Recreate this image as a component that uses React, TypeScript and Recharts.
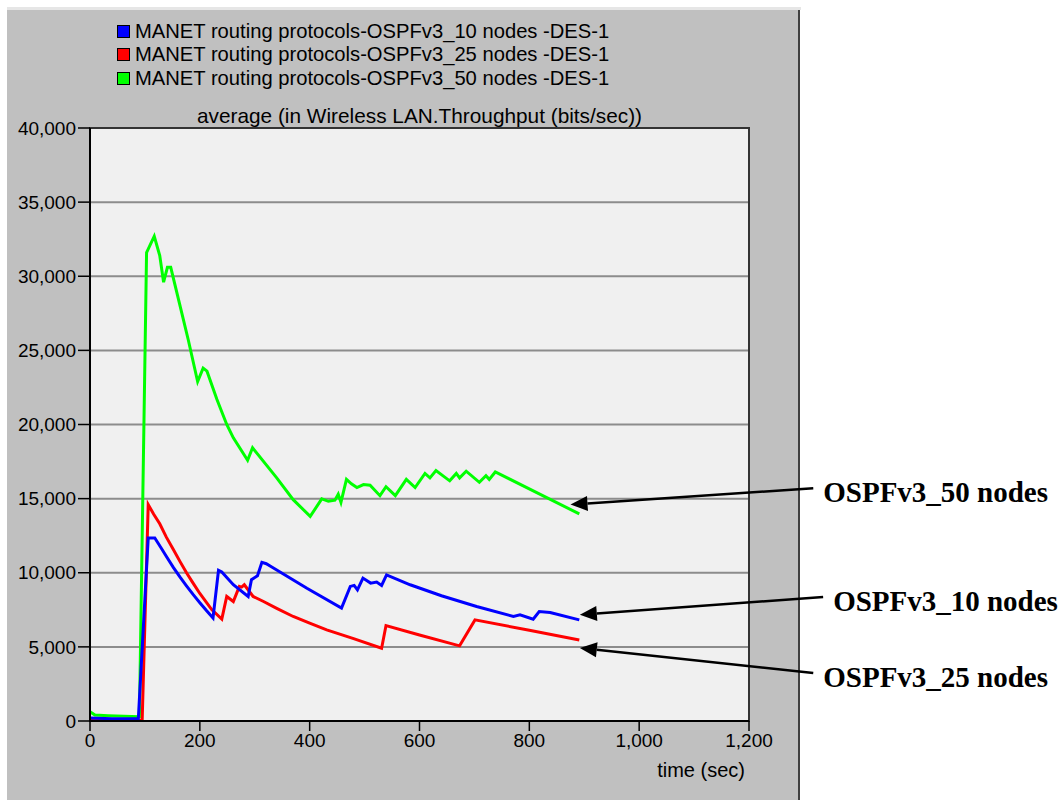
import React from 'react';
import {
  LineChart,
  Line,
  XAxis,
  YAxis,
  CartesianGrid,
  ReferenceArea,
  ReferenceLine,
} from 'recharts';

// time (sec) / throughput (bits/sec)
const nodes10 = [
  { t: 0, v: 200 }, { t: 40, v: 150 }, { t: 88, v: 150 }, { t: 106, v: 12340 },
  { t: 118, v: 12340 }, { t: 129, v: 11700 }, { t: 140, v: 11050 }, { t: 152, v: 10350 },
  { t: 164, v: 9700 }, { t: 176, v: 9100 }, { t: 188, v: 8520 }, { t: 200, v: 7980 },
  { t: 212, v: 7450 }, { t: 224, v: 6950 }, { t: 234, v: 10160 }, { t: 240, v: 10050 },
  { t: 261, v: 9190 }, { t: 288, v: 8400 }, { t: 294, v: 9530 }, { t: 305, v: 9800 },
  { t: 313, v: 10700 }, { t: 321, v: 10610 }, { t: 331, v: 10390 }, { t: 395, v: 8950 },
  { t: 458, v: 7620 }, { t: 474, v: 9080 }, { t: 481, v: 9150 }, { t: 487, v: 8850 },
  { t: 497, v: 9640 }, { t: 511, v: 9300 }, { t: 522, v: 9370 }, { t: 531, v: 9140 },
  { t: 540, v: 9860 }, { t: 583, v: 9190 }, { t: 640, v: 8450 }, { t: 704, v: 7720 },
  { t: 771, v: 7050 }, { t: 783, v: 7160 }, { t: 807, v: 6870 }, { t: 818, v: 7380 },
  { t: 838, v: 7320 }, { t: 891, v: 6820 },
];

const nodes25 = [
  { t: 0, v: 80 }, { t: 40, v: 50 }, { t: 95, v: 50 }, { t: 106, v: 14600 },
  { t: 116, v: 13950 }, { t: 127, v: 13300 }, { t: 139, v: 12400 }, { t: 152, v: 11550 },
  { t: 164, v: 10750 }, { t: 176, v: 9980 }, { t: 188, v: 9280 }, { t: 200, v: 8600 },
  { t: 212, v: 8000 }, { t: 222, v: 7500 }, { t: 240, v: 6870 }, { t: 249, v: 8400 },
  { t: 261, v: 8060 }, { t: 272, v: 9080 }, { t: 276, v: 9030 }, { t: 281, v: 9190 },
  { t: 297, v: 8400 }, { t: 316, v: 8060 }, { t: 340, v: 7600 }, { t: 370, v: 7050 },
  { t: 400, v: 6600 }, { t: 431, v: 6150 }, { t: 480, v: 5560 }, { t: 531, v: 4910 },
  { t: 539, v: 6440 }, { t: 600, v: 5800 }, { t: 673, v: 5070 }, { t: 701, v: 6820 },
  { t: 800, v: 6120 }, { t: 891, v: 5470 },
];

const nodes50 = [
  { t: 0, v: 630 }, { t: 9, v: 400 }, { t: 33, v: 360 }, { t: 90, v: 290 },
  { t: 103, v: 31600 }, { t: 117, v: 32700 }, { t: 127, v: 31400 }, { t: 134, v: 29600 },
  { t: 141, v: 30600 }, { t: 147, v: 30600 }, { t: 164, v: 28000 }, { t: 179, v: 25700 },
  { t: 196, v: 22900 }, { t: 206, v: 23800 }, { t: 213, v: 23600 }, { t: 231, v: 21700 },
  { t: 249, v: 20000 }, { t: 261, v: 19100 }, { t: 287, v: 17590 }, { t: 296, v: 18430 },
  { t: 340, v: 16400 }, { t: 370, v: 14930 }, { t: 401, v: 13800 }, { t: 422, v: 14980 },
  { t: 434, v: 14820 }, { t: 446, v: 14900 }, { t: 452, v: 15300 }, { t: 457, v: 14750 },
  { t: 467, v: 16300 }, { t: 476, v: 16000 }, { t: 486, v: 15750 }, { t: 498, v: 15950 },
  { t: 510, v: 15900 }, { t: 528, v: 15200 }, { t: 539, v: 15800 }, { t: 556, v: 15200 },
  { t: 576, v: 16300 }, { t: 592, v: 15750 }, { t: 610, v: 16700 }, { t: 619, v: 16400 },
  { t: 630, v: 16900 }, { t: 655, v: 16200 }, { t: 667, v: 16700 }, { t: 673, v: 16400 },
  { t: 685, v: 16850 }, { t: 709, v: 16100 }, { t: 721, v: 16550 }, { t: 727, v: 16300 },
  { t: 738, v: 16800 }, { t: 891, v: 13970 },
];

const legendNames = [
  'MANET routing protocols-OSPFv3_10 nodes -DES-1',
  'MANET routing protocols-OSPFv3_25 nodes -DES-1',
  'MANET routing protocols-OSPFv3_50 nodes -DES-1',
];
const legendColors = ['#0000ff', '#ff0000', '#00ff00'];

const xTicks = [0, 200, 400, 600, 800, 1000, 1200];
const yTicks = [0, 5000, 10000, 15000, 20000, 25000, 30000, 35000, 40000];

// callouts: arrow tip near the line end, tail out to the right (data units)
const calloutLabels = ['OSPFv3_50 nodes', 'OSPFv3_10 nodes', 'OSPFv3_25 nodes'];
const calloutTips = [
  { x: 875, y: 14600 },
  { x: 892, y: 7160 },
  { x: 892, y: 4930 },
];
const calloutTails = [
  { x: 1317, y: 15700 },
  { x: 1335, y: 8370 },
  { x: 1317, y: 3240 },
];

const sans = '"Liberation Sans", Arial, sans-serif';
const serif = '"Liberation Serif", "Times New Roman", serif';

const fmt = (v: number) => v.toLocaleString('en-US');

function Arrow(props: any) {
  const { x1, y1, x2, y2, text } = props;
  const ang = Math.atan2(y1 - y2, x1 - x2);
  const c = Math.cos(ang);
  const s = Math.sin(ang);
  const len = 17;
  const hw = 7.5;
  const bx = x1 - c * len;
  const by = y1 - s * len;
  const pts = `${x1},${y1} ${bx - s * hw},${by + c * hw} ${bx + s * hw},${by - c * hw}`;
  return (
    <g>
      <line x1={x2} y1={y2} x2={bx} y2={by} stroke="#000" strokeWidth={2.5} />
      <polygon points={pts} fill="#000" />
      <text
        x={x2 + 10}
        y={y2 + 14}
        fontFamily={serif}
        fontWeight="bold"
        fontSize={29}
        fill="#000"
      >
        {text}
      </text>
    </g>
  );
}

export default function App() {
  return (
    <div style={{ position: 'absolute', left: 0, top: 0, width: 1063, height: 800 }}>
      <div
        style={{
          position: 'absolute',
          left: 7,
          top: 7,
          width: 794,
          height: 3,
          background: '#e6e6e6',
        }}
      />
      <div
        style={{
          position: 'absolute',
          left: 7,
          top: 10,
          width: 791,
          height: 790,
          background: '#c0c0c0',
          borderRight: '2px solid #404040',
        }}
      />
      {legendNames.map((name, i) => (
        <div
          key={name}
          style={{
            position: 'absolute',
            left: 117,
            top: 19 + i * 23.5,
            height: 24,
            display: 'flex',
            alignItems: 'center',
            fontFamily: sans,
            fontSize: 20.2,
            color: '#000',
            whiteSpace: 'nowrap',
          }}
        >
          <span
            style={{
              width: 11,
              height: 11,
              background: legendColors[i],
              border: '1px solid #000',
              marginRight: 5,
              display: 'inline-block',
            }}
          />
          {name}
        </div>
      ))}
      <div
        style={{
          position: 'absolute',
          left: 90,
          width: 659,
          top: 104,
          textAlign: 'center',
          fontFamily: sans,
          fontSize: 20.8,
          color: '#000',
          whiteSpace: 'nowrap',
        }}
      >
        average (in Wireless LAN.Throughput (bits/sec))
      </div>
      <div style={{ position: 'absolute', left: 0, top: 0 }}>
        <LineChart
          width={1063}
          height={800}
          margin={{ top: 128, right: 314, bottom: 19, left: 10 }}
        >
          <CartesianGrid
            vertical={false}
            stroke="#8c8c8c"
            strokeWidth={2}
            fill="#f0f0f0"
          />
          <XAxis
            type="number"
            dataKey="t"
            domain={[0, 1200]}
            ticks={xTicks}
            tickFormatter={fmt}
            height={60}
            tickSize={10}
            tickMargin={3}
            axisLine={{ stroke: '#000', strokeWidth: 2 }}
            tickLine={{ stroke: '#000', strokeWidth: 1.5 }}
            tick={{ fill: '#000', fontSize: 19, fontFamily: sans }}
            label={{
              value: 'time (sec)',
              position: 'insideBottomRight',
              offset: 4,
              fill: '#000',
              fontSize: 20,
              fontFamily: sans,
            }}
          />
          <YAxis
            type="number"
            dataKey="v"
            domain={[0, 40000]}
            ticks={yTicks}
            tickFormatter={fmt}
            width={80}
            tickSize={12}
            tickMargin={2}
            axisLine={{ stroke: '#000', strokeWidth: 2 }}
            tickLine={{ stroke: '#000', strokeWidth: 1.5 }}
            tick={{ fill: '#000', fontSize: 19, fontFamily: sans }}
          />
          <ReferenceArea
            x1={0}
            x2={1200}
            y1={0}
            y2={40000}
            fill="none"
            stroke="#333"
            strokeWidth={2}
          />
          <Line
            data={nodes50}
            dataKey="v"
            name={legendNames[2]}
            type="linear"
            stroke="#00ff00"
            strokeWidth={3}
            dot={false}
            isAnimationActive={false}
          />
          <Line
            data={nodes25}
            dataKey="v"
            name={legendNames[1]}
            type="linear"
            stroke="#ff0000"
            strokeWidth={3}
            dot={false}
            isAnimationActive={false}
          />
          <Line
            data={nodes10}
            dataKey="v"
            name={legendNames[0]}
            type="linear"
            stroke="#0000ff"
            strokeWidth={3}
            dot={false}
            isAnimationActive={false}
          />
          {calloutLabels.map((label, i) => (
            <ReferenceLine
              key={label}
              segment={[calloutTips[i], calloutTails[i]]}
              ifOverflow="visible"
              shape={(p: any) => <Arrow {...p} text={label} />}
            />
          ))}
        </LineChart>
      </div>
    </div>
  );
}
